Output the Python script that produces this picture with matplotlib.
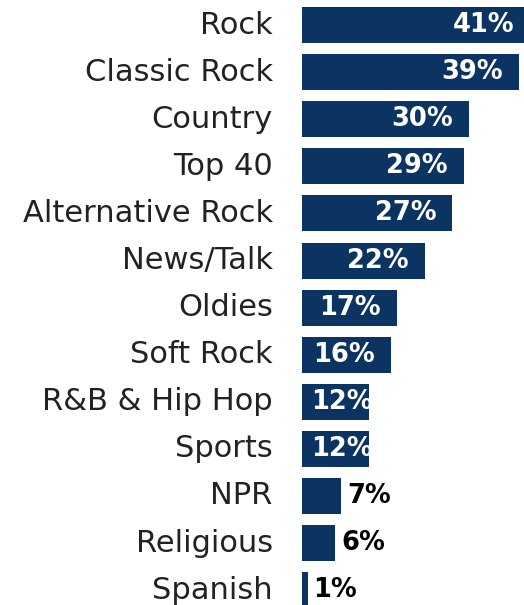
import matplotlib

matplotlib.use("Agg")

import matplotlib.pyplot as plt
from matplotlib.transforms import ScaledTranslation


formats = [
    "Rock",
    "Classic Rock",
    "Country",
    "Top 40",
    "Alternative Rock",
    "News/Talk",
    "Oldies",
    "Soft Rock",
    "R&B & Hip Hop",
    "Sports",
    "NPR",
    "Religious",
    "Spanish",
]
share = [41, 39, 30, 29, 27, 22, 17, 16, 12, 12, 7, 6, 1]

BAR_COLOR = "#0b3463"
W, H, DPI = 524, 605, 100

# bar area starts at x=302px, 5.57px per percent, rows 47.1px apart
X0_PX = 302
PX_PER_PCT = 5.57
ROW_PX = 47.1
FIRST_ROW_PX = 25


def main():
    fig = plt.figure(figsize=(W / DPI, H / DPI), dpi=DPI)
    ax = fig.add_axes([X0_PX / W, 0, 1 - X0_PX / W, 1])

    ax.set_xlim(0, (W - X0_PX) / PX_PER_PCT)
    top = -FIRST_ROW_PX / ROW_PX
    bottom = (H - FIRST_ROW_PX) / ROW_PX
    ax.set_ylim(bottom, top)

    ypos = list(range(len(formats)))
    bars = ax.barh(ypos, share, height=36 / ROW_PX, color=BAR_COLOR)

    ax.set_yticks(ypos)
    ax.set_yticklabels(formats, fontsize=22, color="#222222")
    ax.tick_params(axis="y", length=0, pad=21)
    # nudge category names up a little so descenders stay on the canvas
    lift = ScaledTranslation(0, 3 / DPI, fig.dpi_scale_trans)
    for lbl in ax.get_yticklabels():
        lbl.set_transform(lbl.get_transform() + lift)
    ax.set_xticks([])
    for spine in ax.spines.values():
        spine.set_visible(False)

    for bar, y, v in zip(bars, ypos, share):
        label = f"{v}%"
        if v >= 15:
            ax.annotate(label, (v, y), xytext=(-16, 0), textcoords="offset pixels",
                        ha="right", va="center", color="white",
                        fontsize=18.5, fontweight="bold", annotation_clip=False)
        elif v >= 10:
            # label too wide for the bar: starts near the base, cut at the bar end
            t = ax.annotate(label, (0, y), xytext=(9, 0), textcoords="offset pixels",
                            ha="left", va="center", color="white",
                            fontsize=18.5, fontweight="bold")
            t.set_clip_path(bar)
        else:
            ax.annotate(label, (v, y), xytext=(6, 0), textcoords="offset pixels",
                        ha="left", va="center", color="black",
                        fontsize=18.5, fontweight="bold")

    fig.savefig("out.png", dpi=DPI)
    plt.close(fig)


if __name__ == "__main__":
    main()
